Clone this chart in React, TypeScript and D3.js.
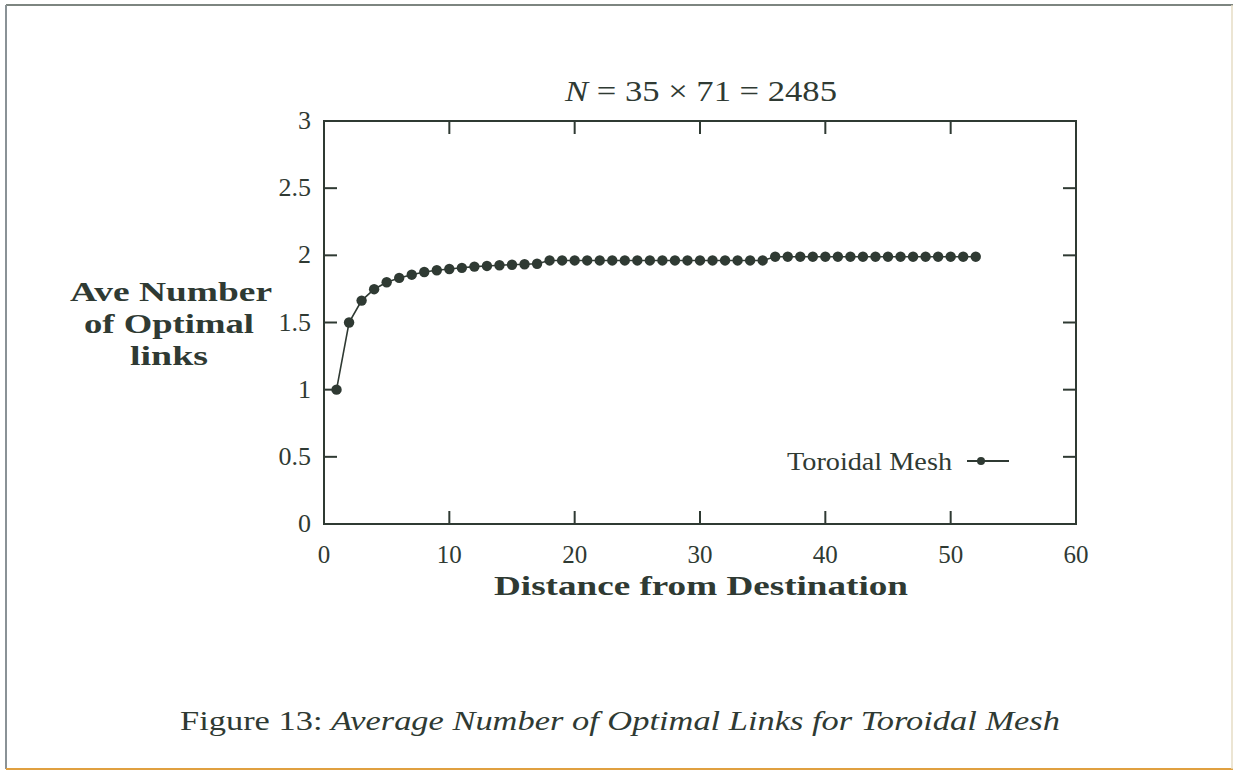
import React from "react";
import * as d3 from "d3";

const distance = [
  1, 2, 3, 4, 5, 6, 7, 8, 9, 10, 11, 12, 13, 14, 15, 16, 17, 18, 19, 20, 21, 22, 23, 24, 25, 26,
  27, 28, 29, 30, 31, 32, 33, 34, 35, 36, 37, 38, 39, 40, 41, 42, 43, 44, 45, 46, 47, 48, 49, 50,
  51, 52,
];
const aveLinks = [
  1.0, 1.5, 1.663, 1.748, 1.8, 1.832, 1.856, 1.876, 1.889, 1.898, 1.907, 1.916, 1.921, 1.926, 1.93,
  1.934, 1.937, 1.962, 1.962, 1.962, 1.962, 1.962, 1.962, 1.962, 1.962, 1.962, 1.962, 1.962, 1.962,
  1.962, 1.962, 1.962, 1.962, 1.962, 1.962, 1.99, 1.99, 1.99, 1.99, 1.99, 1.99, 1.99, 1.99, 1.99,
  1.99, 1.99, 1.99, 1.99, 1.99, 1.99, 1.99, 1.99,
];
const xTicks = [0, 10, 20, 30, 40, 50, 60];
const yTicks = [0, 0.5, 1, 1.5, 2, 2.5, 3];
const yTickLabels = ["0", "0.5", "1", "1.5", "2", "2.5", "3"];
const seriesName = "Toroidal Mesh";
const yLabelLines = ["Ave Number", "of Optimal", "links"];
const yLabelWidths = [202, 170, 78];
const xLabel = "Distance from Destination";

const W = 1233;
const H = 771;
const INK = "#2f3a33";
const FONT = "'Liberation Serif', 'DejaVu Serif', serif";

export default function App() {
  const left = 324, right = 1076, top = 121, bottom = 524;
  const x = d3.scaleLinear().domain([0, 60]).range([left, right]);
  const y = d3.scaleLinear().domain([0, 3]).range([bottom, top]);
  const line = d3
    .line<number>()
    .x((_, i) => x(distance[i]))
    .y((d) => y(d));
  const tl = 13;

  return (
    <svg
      width={W}
      height={H}
      viewBox={`0 0 ${W} ${H}`}
      style={{ position: "absolute", left: 0, top: 0, background: "#fff" }}
      fontFamily={FONT}
    >
      <rect x={0} y={0} width={W} height={H} fill="#fff" />
      {/* page border */}
      <line x1={6} y1={5} x2={W} y2={5} stroke="#7d8580" strokeWidth={2} />
      <line x1={6} y1={5} x2={6} y2={769} stroke="#8a9296" strokeWidth={2} />
      <line x1={6} y1={769} x2={W} y2={769} stroke="#e0a040" strokeWidth={2} />
      <line x1={1232} y1={5} x2={1232} y2={769} stroke="#e6dcc4" strokeWidth={1.5} />

      {/* title */}
      <text
        x={565}
        y={101}
        fontSize={30}
        fill={INK}
        textLength={272}
        lengthAdjust="spacingAndGlyphs"
      >
        <tspan fontStyle="italic">N</tspan>
        <tspan> = 35 × 71 = 2485</tspan>
      </text>

      {/* frame */}
      <rect
        x={left}
        y={top}
        width={right - left}
        height={bottom - top}
        fill="none"
        stroke={INK}
        strokeWidth={2}
      />
      {/* x ticks */}
      {xTicks.map((t) => (
        <g key={"x" + t}>
          {t > 0 && t < 60 && (
            <>
              <line x1={x(t)} x2={x(t)} y1={bottom} y2={bottom - tl} stroke={INK} strokeWidth={2} />
              <line x1={x(t)} x2={x(t)} y1={top} y2={top + tl} stroke={INK} strokeWidth={2} />
            </>
          )}
          <text x={x(t)} y={563} textAnchor="middle" fontSize={25} fill={INK}>
            {t}
          </text>
        </g>
      ))}
      {/* y ticks */}
      {yTicks.map((t, i) => (
        <g key={"y" + t}>
          {t > 0 && t < 3 && (
            <>
              <line x1={left} x2={left + tl} y1={y(t)} y2={y(t)} stroke={INK} strokeWidth={2} />
              <line x1={right} x2={right - tl} y1={y(t)} y2={y(t)} stroke={INK} strokeWidth={2} />
            </>
          )}
          <text x={311} y={y(t) + 8} textAnchor="end" fontSize={26} fill={INK}>
            {yTickLabels[i]}
          </text>
        </g>
      ))}

      {/* series */}
      <path d={line(aveLinks) || ""} fill="none" stroke={INK} strokeWidth={1.6} />
      {aveLinks.map((v, i) => (
        <circle key={i} cx={x(distance[i])} cy={y(v)} r={5.2} fill={INK} />
      ))}

      {/* legend */}
      <text
        x={787}
        y={470}
        fontSize={26}
        fill={INK}
        textLength={165}
        lengthAdjust="spacingAndGlyphs"
      >
        {seriesName}
      </text>
      <line x1={967} x2={1009} y1={461} y2={461} stroke={INK} strokeWidth={1.8} />
      <circle cx={981} cy={461} r={4} fill={INK} />

      {/* axis labels */}
      <text
        x={494}
        y={595}
        fontSize={28}
        fontWeight="bold"
        fill={INK}
        textLength={414}
        lengthAdjust="spacingAndGlyphs"
      >
        {xLabel}
      </text>
      {yLabelLines.map((s, i) => (
        <text
          key={s}
          x={169 - yLabelWidths[i] / 2 + (i === 0 ? 2 : 0)}
          y={301 + i * 32}
          fontSize={28}
          fontWeight="bold"
          fill={INK}
          textLength={yLabelWidths[i]}
          lengthAdjust="spacingAndGlyphs"
        >
          {s}
        </text>
      ))}

      {/* caption */}
      <text
        x={180}
        y={730}
        fontSize={27}
        fill={INK}
        textLength={880}
        lengthAdjust="spacingAndGlyphs"
      >
        <tspan>Figure 13: </tspan>
        <tspan fontStyle="italic">Average Number of Optimal Links for Toroidal Mesh</tspan>
      </text>
    </svg>
  );
}
